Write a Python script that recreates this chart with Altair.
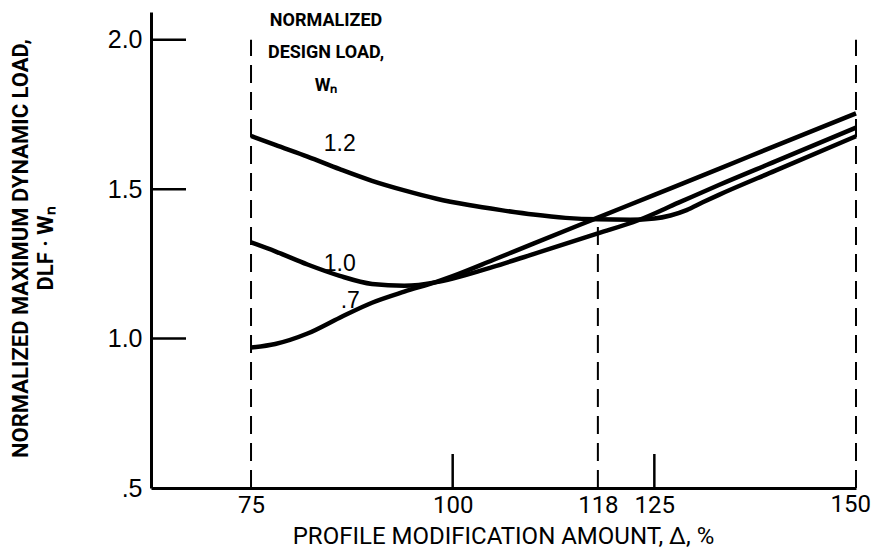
import altair as alt
import pandas as pd

# ---- data ----
x_07 = [75, 78, 82, 86, 90, 94, 98, 100, 105, 110, 118, 125, 133, 140, 150]
y_07 = [0.970, 0.982, 1.017, 1.070, 1.120, 1.157, 1.190, 1.209, 1.263, 1.318, 1.405, 1.481, 1.568, 1.645, 1.754]

x_10 = [75, 78, 82, 86, 90, 94, 98, 100, 105, 110, 118, 123, 128, 133, 140, 150]
y_10 = [1.322, 1.292, 1.248, 1.210, 1.183, 1.177, 1.189, 1.201, 1.240, 1.283, 1.352, 1.396, 1.455, 1.514, 1.593, 1.706]

x_12 = [75, 78, 82, 86, 90, 94, 98, 102, 106, 110, 114, 118, 122, 125, 127, 129, 131, 133, 140, 150]
y_12 = [1.678, 1.648, 1.609, 1.567, 1.528, 1.496, 1.468, 1.447, 1.430, 1.415, 1.404, 1.399, 1.398, 1.402, 1.412, 1.430, 1.456, 1.481, 1.562, 1.677]

series_names = [".7", "1.0", "1.2"]

x_ticks = [75, 100, 118, 125]
x_last = [150]
y_ticks = [0.5, 1.0, 1.5, 2.0]
inner_y_ticks = [1.0, 1.5, 2.0]
inner_x_ticks = [100, 125]

dash_x = [75, 118, 150]
dash_y_top = [2.0, 1.405, 2.0]

label_text = ["1.2", "1.0", ".7"]
label_x = [86.0, 86.0, 87.3]
label_y = [1.651, 1.250, 1.126]

legend_lines = ["NORMALIZED", "DESIGN LOAD,", "Wₙ"]
legend_x = [84.3, 84.3, 84.3]
legend_y = [2.062, 1.955, 1.847]

X_DOMAIN = [62.6, 150]
Y_DOMAIN = [0.5, 2.093]

COND = "Roboto"
PLAIN = "Liberation Sans"

rows = []
for name, xs, ys in zip(series_names, [x_07, x_10, x_12], [y_07, y_10, y_12]):
    for a, b in zip(xs, ys):
        rows.append({"series": name, "x": a, "y": b})
curves = pd.DataFrame(rows)

xscale = alt.Scale(domain=X_DOMAIN, nice=False, zero=False)
yscale = alt.Scale(domain=Y_DOMAIN, nice=False, zero=False)

lines = alt.Chart(curves).mark_line(
    color="black", strokeWidth=4.5, interpolate="monotone", strokeCap="butt"
).encode(
    x=alt.X("x:Q", scale=xscale, axis=alt.Axis(
        values=x_ticks, ticks=False, grid=False, domainColor="black", domainWidth=3,
        labelFont=COND, labelFontSize=24, labelColor="black", labelPadding=5,
        labelOverlap=False, labelFlush=False, format="d",
        title="PROFILE MODIFICATION AMOUNT, Δ, %", titleFont=COND, titleFontSize=24,
        titleFontWeight="normal", titleColor="black", titleX=352, titleY=55,
        titleAlign="center", titleBaseline="alphabetic")),
    y=alt.Y("y:Q", scale=yscale, axis=alt.Axis(
        values=y_ticks, ticks=False, grid=False, domainColor="black", domainWidth=3,
        labelFont=PLAIN, labelFontSize=25, labelColor="black", labelPadding=9,
        labelExpr="datum.value == 0.5 ? '.5' : format(datum.value, '.1f')",
        title=["NORMALIZED MAXIMUM DYNAMIC LOAD,", "DLF · Wₙ"], titleFont=COND,
        titleFontSize=22, titleFontWeight="bold", titleColor="black",
        titleLineHeight=25, titleAngle=270, titleX=-141, titleY=236,
        titleAlign="center", titleBaseline="top")),
    detail="series:N",
)

last_df = pd.DataFrame({"x": x_last, "t": [str(v) for v in x_last]})
last_label = alt.Chart(last_df).mark_text(
    font=COND, fontSize=24, color="black", align="right", baseline="top", dx=15, dy=5
).encode(x=alt.X("x:Q", scale=xscale), y=alt.value(476), text="t:N")

dash_df = pd.DataFrame({"x": dash_x, "y": [0.5] * len(dash_x), "y2": dash_y_top})
dashes = alt.Chart(dash_df).mark_rule(color="black", strokeWidth=2, strokeDash=[18, 9]).encode(
    x=alt.X("x:Q", scale=xscale), y=alt.Y("y:Q", scale=yscale), y2="y2:Q"
)

ytick_df = pd.DataFrame({"y": inner_y_ticks})
yticks = alt.Chart(ytick_df).mark_rule(color="black", strokeWidth=2.5).encode(
    y=alt.Y("y:Q", scale=yscale), x=alt.value(0), x2=alt.value(35)
)

xtick_df = pd.DataFrame({"x": inner_x_ticks})
xticks = alt.Chart(xtick_df).mark_rule(color="black", strokeWidth=2.5).encode(
    x=alt.X("x:Q", scale=xscale), y=alt.value(476), y2=alt.value(442)
)

lab_df = pd.DataFrame({"t": label_text, "x": label_x, "y": label_y})
labels = alt.Chart(lab_df).mark_text(
    font=PLAIN, fontSize=23, color="black", align="center", baseline="middle"
).encode(x=alt.X("x:Q", scale=xscale), y=alt.Y("y:Q", scale=yscale), text="t:N")

leg_df = pd.DataFrame({"t": legend_lines, "x": legend_x, "y": legend_y})
legend = alt.Chart(leg_df).mark_text(
    font=COND, fontSize=18, fontWeight="bold", color="black", align="center", baseline="middle"
).encode(x=alt.X("x:Q", scale=xscale), y=alt.Y("y:Q", scale=yscale), text="t:N")

chart = alt.layer(dashes, yticks, xticks, lines, labels, legend, last_label).properties(
    width=705, height=476,
    autosize=alt.AutoSizeParams(type="none"),
    padding={"left": 143, "top": 4, "right": 15, "bottom": 62},
    background="white",
).configure_view(stroke=None)

chart.save("out.html", embed_options={"renderer": "svg", "actions": False})
